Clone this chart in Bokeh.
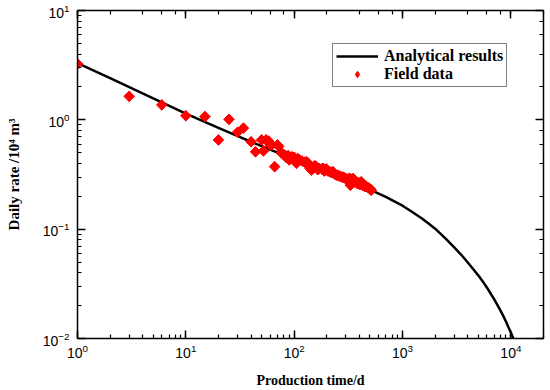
from bokeh.plotting import figure
from bokeh.models import LogAxis, LogTicker, Range1d, Legend, LegendItem
from bokeh.embed import file_html
from bokeh.resources import INLINE

# Analytical results curve
curve_t = [1, 2, 5, 10, 20, 50, 100, 200, 300, 500, 700, 1000, 1200, 1500, 1750,
           2000, 2500, 3000, 3500, 4000, 4500, 5000, 5500, 6000, 6500, 7000, 7500,
           8000, 8500, 9000, 9500, 10000, 10500, 11000]
curve_q = [3.3, 2.41, 1.57, 1.14, 0.843, 0.574, 0.435, 0.332, 0.284, 0.230, 0.197,
           0.164, 0.146, 0.126, 0.112, 0.101, 0.082, 0.068, 0.058, 0.0495, 0.043,
           0.0378, 0.0333, 0.0293, 0.0258, 0.0229, 0.0203, 0.0181, 0.0161, 0.0143,
           0.01268, 0.01135, 0.01008, 0.0090]

# Field data
field_t = [1, 3, 6, 10, 15, 20, 25, 30, 34, 40, 44, 50, 52, 55, 58, 60, 62, 66,
           70, 72, 76, 80, 82, 85, 88, 90, 95, 98, 100, 105, 108, 112, 118, 125,
           130, 135, 140, 144, 150, 155, 160, 165, 170, 180, 185, 190, 198, 205,
           213, 220, 228, 235, 245, 255, 265, 275, 282, 290, 300, 310, 320, 325,
           330, 340, 350, 360, 374, 385, 395, 405, 416, 430, 440, 450, 464, 480,
           496, 505, 514]
field_q = [3.25, 1.64, 1.37, 1.09, 1.07, 0.655, 1.01, 0.77, 0.84, 0.63, 0.51,
           0.655, 0.52, 0.655, 0.64, 0.59, 0.59, 0.373, 0.59, 0.57, 0.50, 0.48,
           0.476, 0.45, 0.47, 0.43, 0.46, 0.44, 0.455, 0.40, 0.44, 0.43, 0.42,
           0.41, 0.414, 0.40, 0.36, 0.347, 0.36, 0.38, 0.373, 0.35, 0.36, 0.355,
           0.36, 0.34, 0.355, 0.34, 0.335, 0.33, 0.335, 0.32, 0.312, 0.31, 0.305,
           0.30, 0.30, 0.295, 0.29, 0.28, 0.29, 0.291, 0.252, 0.285, 0.291, 0.27,
           0.271, 0.26, 0.265, 0.255, 0.271, 0.252, 0.25, 0.245, 0.244, 0.24,
           0.235, 0.232, 0.227]

x_label = "Production time/d"
y_label = "Daily rate /10\u2074 m\u00b3"
legend_labels = ["Analytical results", "Field data"]

p = figure(width=548, height=390, x_axis_type="log", y_axis_type="log",
           x_range=Range1d(1, 2e4), y_range=Range1d(0.01, 10),
           output_backend="svg", toolbar_location=None,
           min_border_left=77, min_border_top=10, min_border_right=5,
           min_border_bottom=10, outline_line_color=None)
p.xgrid.visible = False
p.ygrid.visible = False

line_r = p.line(curve_t, curve_q, line_color="black", line_width=2.5)
# diamond renderer (used as the legend swatch; hidden beneath the rotated squares)
swatch_r = p.scatter(field_t, field_q, marker="diamond", size=10,
                     fill_color="#ff0000", line_color="#ff0000")
p.scatter(field_t, field_q, marker="square", angle=0.785398, size=7.5,
          fill_color="#ff0000", line_color="#ff0000")

tick_font = "Liberation Sans"
label_font = "Liberation Serif"


def style_axis(ax, show_labels):
    ax.axis_line_width = 1.5
    ax.axis_line_color = "black"
    ax.major_tick_in = 8
    ax.major_tick_out = 0
    ax.minor_tick_in = 4
    ax.minor_tick_out = 0
    ax.major_tick_line_width = 1.5
    ax.minor_tick_line_width = 1.2
    ax.major_tick_line_color = "black"
    ax.minor_tick_line_color = "black"
    if show_labels:
        ax.major_label_text_font = tick_font
        ax.major_label_text_font_size = "14px"
        ax.major_label_text_color = "black"
        ax.axis_label_text_font = label_font
        ax.axis_label_text_font_style = "bold"
        ax.axis_label_text_font_size = "14px"
        ax.axis_label_text_color = "black"
    else:
        ax.major_label_text_font_size = "2px"
        ax.major_label_text_alpha = 0
        ax.major_label_standoff = 0


style_axis(p.xaxis[0], True)
style_axis(p.yaxis[0], True)
p.xaxis[0].axis_label = x_label
p.yaxis[0].axis_label = y_label
p.yaxis[0].axis_label_text_font_size = "15px"
p.xaxis[0].major_label_standoff = 5
p.xaxis[0].axis_label_standoff = 12
p.yaxis[0].major_label_standoff = 8
p.yaxis[0].axis_label_standoff = 18

top = LogAxis(ticker=LogTicker())
right = LogAxis(ticker=LogTicker())
style_axis(top, False)
style_axis(right, False)
p.add_layout(top, "above")
p.add_layout(right, "right")

leg = Legend(items=[LegendItem(label=legend_labels[0], renderers=[line_r]),
                    LegendItem(label=legend_labels[1], renderers=[swatch_r])],
             location=(255, 251))
leg.label_text_font = label_font
leg.label_text_font_style = "bold"
leg.label_text_font_size = "16px"
leg.label_text_color = "black"
leg.glyph_width = 42
leg.glyph_height = 16
leg.label_height = 16
leg.label_standoff = 6
leg.padding = 3
leg.spacing = 0
leg.margin = 0
leg.border_line_color = "black"
leg.border_line_width = 1
leg.background_fill_alpha = 1
p.add_layout(leg, "center")

open("out.html", "w").write(file_html(p, INLINE))
